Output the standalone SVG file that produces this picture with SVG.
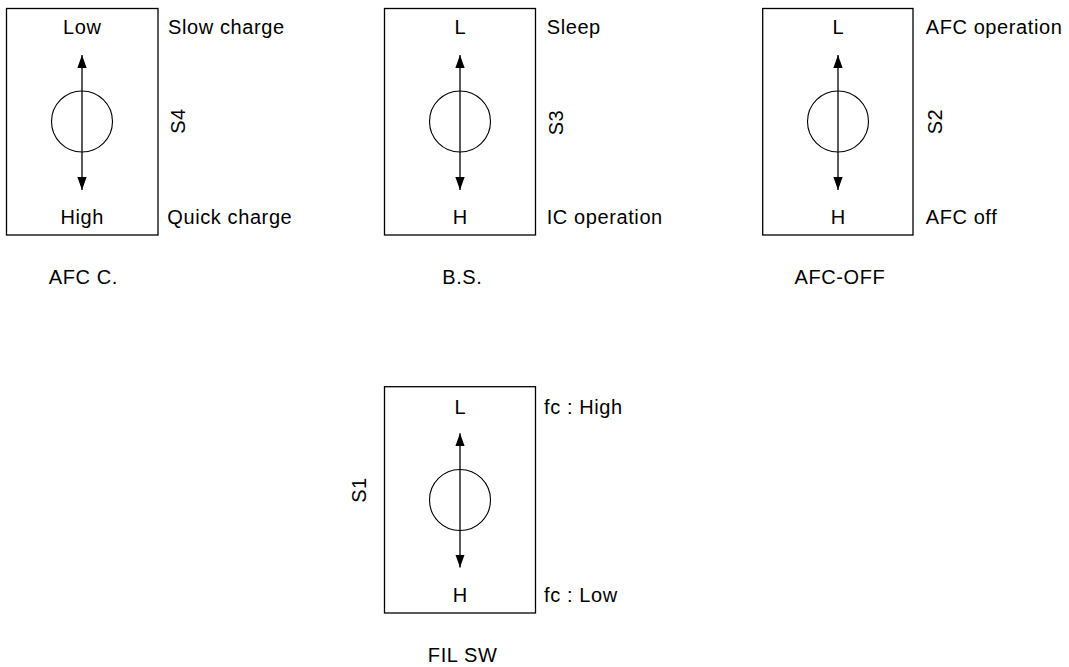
<svg xmlns="http://www.w3.org/2000/svg" width="1069" height="667" viewBox="0 0 1069 667">
<style>
  .box{fill:none;stroke:#000;stroke-width:1.3}
  .knob{fill:none;stroke:#000;stroke-width:1.1}
  .shaft{stroke:#000;stroke-width:1.3;marker-start:url(#ah);marker-end:url(#ah)}
  text{font-family:"Liberation Sans",Arial,sans-serif;font-size:20px;letter-spacing:0.6px;fill:#000}
  .c{text-anchor:middle}
</style>
<defs>
  <marker id="ah" markerUnits="userSpaceOnUse" markerWidth="14" markerHeight="10" refX="13" refY="4.65" orient="auto-start-reverse" viewBox="0 0 14 10">
    <path d="M0,0 L13,4.65 L0,9.3 z" fill="#000"/>
  </marker>
</defs>
<rect width="1069" height="667" fill="#fff"/>

<g id="afc-c">
  <rect class="box" x="6.5" y="8.5" width="151.5" height="226.5"/>
  <circle class="knob" cx="82" cy="121.5" r="30.5"/>
  <line class="shaft" x1="82" y1="55" x2="82" y2="190"/>
  <text class="c" x="82.3" y="34">Low</text>
  <text class="c" x="82.3" y="223.5">High</text>
  <text x="168" y="34">Slow charge</text>
  <text x="167.3" y="223.5">Quick charge</text>
  <text class="c" transform="translate(185,121) rotate(-90)">S4</text>
  <text class="c" x="83.3" y="283.5">AFC C.</text>
</g>

<g id="bs">
  <rect class="box" x="384.5" y="8.5" width="151" height="226.5"/>
  <circle class="knob" cx="460" cy="121.5" r="30.5"/>
  <line class="shaft" x1="460" y1="55" x2="460" y2="190"/>
  <text class="c" x="460.3" y="34">L</text>
  <text class="c" x="460.3" y="223.5">H</text>
  <text x="546.7" y="34">Sleep</text>
  <text x="546.7" y="223.5">IC operation</text>
  <text class="c" transform="translate(562.7,122.5) rotate(-90)">S3</text>
  <text class="c" x="462.3" y="283.5">B.S.</text>
</g>

<g id="afc-off">
  <rect class="box" x="762.7" y="8.5" width="150.3" height="226.5"/>
  <circle class="knob" cx="838" cy="121.5" r="30.5"/>
  <line class="shaft" x1="838" y1="55" x2="838" y2="190"/>
  <text class="c" x="838.3" y="34">L</text>
  <text class="c" x="838.3" y="223.5">H</text>
  <text x="925.7" y="34">AFC operation</text>
  <text x="925.7" y="223.5">AFC off</text>
  <text class="c" transform="translate(941.7,121.5) rotate(-90)">S2</text>
  <text class="c" x="840" y="283.5">AFC-OFF</text>
</g>

<g id="fil-sw">
  <rect class="box" x="384.5" y="386.7" width="151" height="226.3"/>
  <circle class="knob" cx="460" cy="500" r="30.5"/>
  <line class="shaft" x1="460" y1="433.2" x2="460" y2="567.5"/>
  <text class="c" x="460.3" y="413.5">L</text>
  <text class="c" x="460.3" y="602">H</text>
  <text x="544" y="413.5">fc : High</text>
  <text x="544" y="602">fc : Low</text>
  <text class="c" transform="translate(366,490) rotate(-90)">S1</text>
  <text class="c" x="462.6" y="662">FIL SW</text>
</g>
</svg>
